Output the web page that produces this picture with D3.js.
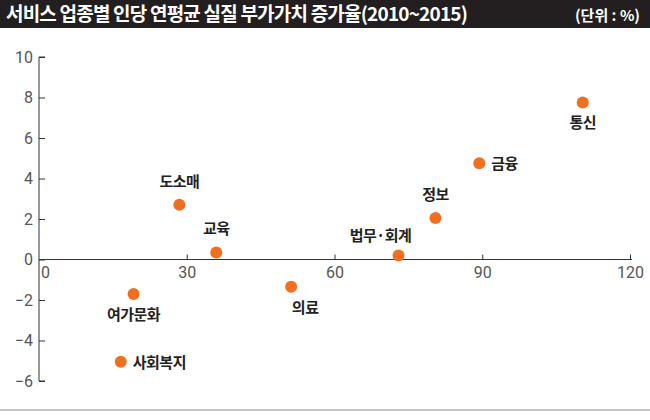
<!DOCTYPE html>
<html><head><meta charset="utf-8">
<script src="https://cdn.jsdelivr.net/npm/d3@7"></script>
<style>body{margin:0;background:#fff;font-family:"Noto Sans CJK KR",sans-serif;}</style>
</head><body><svg id="c" width="650" height="420"></svg>
<script>
var names = ['도소매','교육','여가문화','사회복지','의료','법무·회계','정보','금융','통신'];
var xVals = [28.5, 36, 19.2, 16.6, 51.2, 73, 80.5, 89.4, 110.4];
var yVals = [2.7, 0.35, -1.7, -5.05, -1.35, 0.2, 2.05, 4.75, 7.75];
var xTicks = [0, 30, 60, 90, 120];
var yTicks = [-6, -4, -2, 0, 2, 4, 6, 8, 10];
// label offsets: [dx, dy, anchor]
var labelPos = [[0,-18,'middle'],[0,-18,'middle'],[0,26,'middle'],[12,6,'start'],[14,26,'middle'],[-18,-14,'middle'],[0,-18,'middle'],[12,6,'start'],[0,25,'middle']];

var svg = d3.select('#c');
svg.append('rect').attr('x',0).attr('y',0).attr('width',650).attr('height',28).attr('fill','#231f20');
svg.append('text').attr('x',6).attr('y',21).attr('fill','#fff').attr('font-size',19).attr('font-weight','bold')
  .attr('letter-spacing',-0.8).text('서비스 업종별 인당 연평균 실질 부가가치 증가율(2010~2015)');
svg.append('text').attr('x',640).attr('y',21).attr('fill','#fff').attr('font-size',15).attr('font-weight','bold')
  .attr('text-anchor','end').text('(단위 : %)');
svg.append('line').attr('x1',0).attr('x2',650).attr('y1',410).attr('y2',410).attr('stroke','#888');

var x = d3.scaleLinear().domain([0,120]).range([39,630]);
var y = d3.scaleLinear().domain([-6,10]).range([381,57]);

var gy = svg.append('g').attr('transform','translate(39,0)')
  .call(d3.axisRight(y).tickValues(yTicks).tickSize(6).tickFormat(function(d){return d<0?'−'+(-d):d;}));
gy.select('.domain').attr('d','M6,381H0V57H6').attr('stroke','#333');
gy.selectAll('.tick line').attr('stroke','#333');
gy.selectAll('.tick text').attr('x',-6).attr('text-anchor','end').attr('fill','#555').attr('font-size',16)
  .attr('font-family','Liberation Sans Narrow, Roboto, sans-serif');

var gx = svg.append('g').attr('transform','translate(0,'+y(0)+')')
  .call(d3.axisTop(x).tickValues(xTicks).tickSize(5));
gx.select('.domain').attr('d','M39,0H632').attr('stroke','#333');
gx.selectAll('.tick line').attr('stroke','#333');
gx.selectAll('.tick text').attr('y',18).attr('fill','#555').attr('font-size',16)
  .attr('font-family','Liberation Sans Narrow, Roboto, sans-serif');
gx.selectAll('.tick').filter(function(d){return d===0;}).select('line').remove();
gx.selectAll('.tick').filter(function(d){return d===0;}).select('text').attr('x',6);

var pts = svg.append('g').selectAll('g').data(names).join('g')
  .attr('transform',function(d,i){return 'translate('+x(xVals[i])+','+y(yVals[i])+')';});
pts.append('circle').attr('r',6).attr('fill','#f26f21');
pts.append('text').attr('x',function(d,i){return labelPos[i][0];}).attr('y',function(d,i){return labelPos[i][1];})
  .attr('text-anchor',function(d,i){return labelPos[i][2];}).attr('font-size',15).attr('font-weight','bold')
  .attr('fill','#222').attr('letter-spacing',-0.5).text(function(d){return d;});
</script></body></html>
